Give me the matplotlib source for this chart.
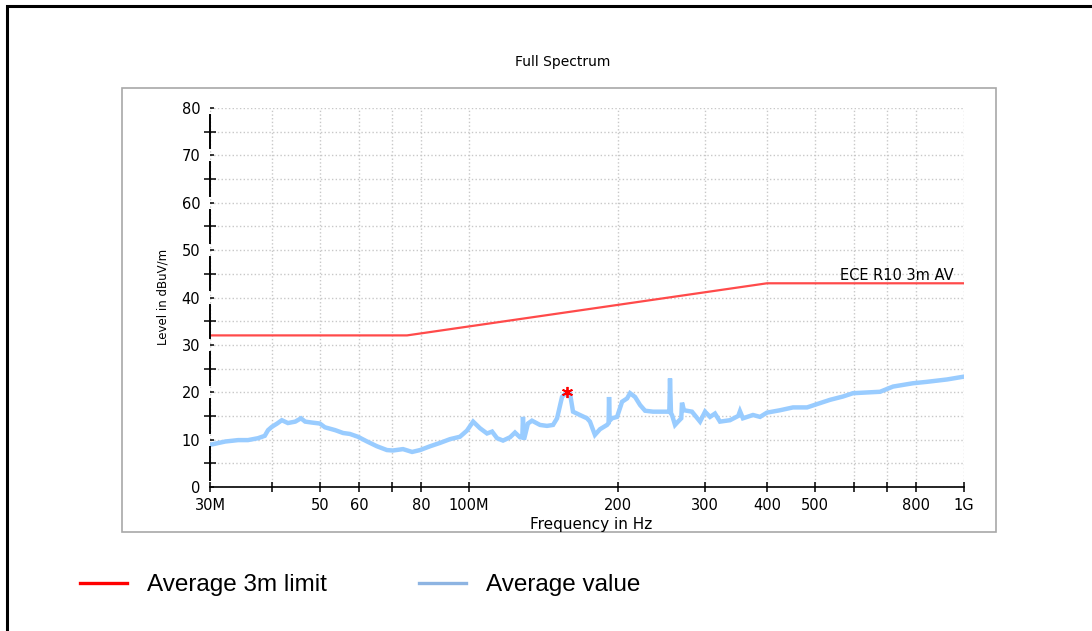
import numpy as np
import matplotlib.pyplot as plt
from matplotlib.lines import Line2D
from matplotlib.patches import Rectangle

freq_mhz = [30.0, 32.2, 34.2, 35.8, 37.5, 38.7, 39.3, 40.0, 41.0, 41.9,
            43.1, 44.6, 45.8, 46.7, 48.2, 50.0, 51.2, 53.7, 55.7, 57.5,
            59.7, 62.3, 65.2, 68.3, 70.2, 73.6, 76.8, 79.7, 83.5, 87.4,
            91.6, 95.9, 99.1, 102.0, 105.3, 108.8, 111.4, 114.0, 117.2, 121.1,
            123.9, 126.8, 128.2, 128.6, 129.2, 131.6, 134.1, 139.2, 143.8, 147.9,
            150.7, 154.2, 157.9, 160.0, 162.3, 167.6, 173.2, 175.6, 179.7, 184.0,
            190.1, 191.5, 191.9, 192.5, 194.6, 199.2, 203.9, 208.7, 211.6, 216.6,
            221.7, 226.9, 235.5, 243.2, 251.3, 254.0, 254.8, 256.0, 257.2, 260.8,
            264.5, 268.5, 269.4, 271.9, 282.2, 293.0, 299.9, 306.9, 314.1, 321.5,
            336.8, 350.0, 352.8, 357.7, 374.8, 387.3, 400.0, 425.0, 451.5, 482.0,
            504.9, 536.3, 569.6, 596.8, 676.8, 718.9, 788.9, 842.0, 924.2, 1000.0]
avg_level = [8.9, 9.6, 9.9, 9.9, 10.3, 10.8, 12.0, 12.7, 13.4, 14.1,
             13.5, 13.8, 14.5, 13.8, 13.6, 13.4, 12.6, 12.0, 11.4, 11.2,
             10.6, 9.6, 8.6, 7.8, 7.7, 8.0, 7.4, 7.8, 8.6, 9.3,
             10.1, 10.6, 11.9, 13.8, 12.4, 11.3, 11.7, 10.3, 9.8, 10.5,
             11.5, 10.5, 10.5, 14.8, 10.0, 13.4, 14.0, 13.1, 12.9, 13.1,
             14.5, 19.0, 20.1, 19.8, 15.9, 15.2, 14.5, 13.8, 11.0, 12.2,
             13.1, 13.5, 19.0, 14.0, 14.5, 14.8, 18.0, 18.7, 19.8, 19.0,
             17.3, 16.1, 15.9, 15.9, 15.9, 15.9, 22.9, 15.5, 15.2, 13.1,
             13.8, 14.5, 17.8, 16.2, 15.9, 13.8, 15.9, 14.8, 15.5, 13.8,
             14.1, 15.0, 16.0, 14.5, 15.2, 14.8, 15.7, 16.2, 16.8, 16.8,
             17.5, 18.4, 19.1, 19.8, 20.1, 21.2, 21.9, 22.2, 22.7, 23.3]

# ECE R10 3m AV limit breakpoints
limit_freq = [30, 75, 400, 1000]
limit_level = [32, 32, 43, 43]

peak_freq = 157.9
peak_level = 20.1

x_ticks = [30, 40, 50, 60, 70, 80, 100, 200, 300, 400, 500, 600, 700, 800, 1000]
x_labels = ['30M', '', '50', '60', '', '80', '100M', '200', '300', '400', '500',
            '', '', '800', '1G']
y_ticks = [0, 10, 20, 30, 40, 50, 60, 70, 80]
y_minor = [5, 15, 25, 35, 45, 55, 65, 75]

plt.rcParams['font.family'] = ['DejaVu Sans']

fig = plt.figure(figsize=(10.92, 6.31), dpi=100)

# outer document frame and the grey chart panel
fig.add_artist(Rectangle((7 / 1092, -0.2), 1.5, 1.2 - 5.5 / 631,
                         transform=fig.transFigure, fill=False,
                         edgecolor='black', lw=2.2))
panel = Rectangle((122 / 1092, 1 - 532 / 631), 874 / 1092, 444 / 631,
                  transform=fig.transFigure, fill=False,
                  edgecolor='#a8a8a8', lw=1.2)
fig.add_artist(panel)

ax = fig.add_axes([210 / 1092, 1 - 487 / 631, 754 / 1092, 379 / 631])
ax.set_xscale('log')
ax.set_xlim(30, 1000)
ax.set_ylim(0, 80)

ax.plot(freq_mhz, avg_level, color='#99ccff', lw=3.2, solid_joinstyle='miter')
ax.plot(limit_freq, limit_level, color='#ff4a4a', lw=1.6)
ax.plot(peak_freq, peak_level, marker=(6, 2, 0), color='red', ms=8, mew=1.3)
ax.text(562, 43, 'ECE R10 3m AV', fontsize=10.5, ha='left', va='bottom')

ax.set_xticks(x_ticks)
ax.set_xticklabels(x_labels)
ax.xaxis.set_minor_locator(plt.NullLocator())
ax.set_yticks(y_ticks)
ax.set_yticks(y_minor, minor=True)

ax.tick_params(axis='x', which='major', direction='inout', length=6.5,
               width=1.1, pad=5, labelsize=10.5)
ax.tick_params(axis='y', which='major', direction='in', length=3,
               width=1.1, pad=7, labelsize=10.5)
ax.tick_params(axis='y', which='minor', direction='inout', length=9,
               width=1.1)

for s in ['top', 'right', 'left']:
    ax.spines[s].set_visible(False)
ax.spines['bottom'].set_linewidth(1.2)

# broken left axis line, the way the EMC software draws it
for y in y_ticks[:-1]:
    ax.plot([30, 30], [y + 1.5, y + 8.5], color='black', lw=1.4, clip_on=False)

ax.grid(True, which='major', axis='x', color='#c8c8c8', ls=':', lw=1)
ax.grid(True, which='both', axis='y', color='#c8c8c8', ls=':', lw=1)
ax.set_axisbelow(True)

fig.text(563 / 1092, 1 - 62 / 631, 'Full Spectrum', fontsize=10,
         ha='center', va='center')
fig.text(163 / 1092, 1 - 297 / 631, 'Level in dBuV/m', fontsize=8.5,
         rotation=90, ha='center', va='center')
xl = fig.text(591 / 1092, 1 - 524 / 631, 'Frequency in Hz', fontsize=11,
              ha='center', va='center')
xl.set_clip_path(panel)

handles = [Line2D([], [], color='red', lw=2.4, label='Average 3m limit'),
           Line2D([], [], color='#8db4e2', lw=2.4, label='Average value')]
fig.legend(handles=handles, loc='center left',
           bbox_to_anchor=(80 / 1092, 1 - 585 / 631), ncol=2, frameon=False,
           prop={'family': 'Liberation Sans', 'size': 17.5},
           handlelength=1.95, handletextpad=0.8, columnspacing=3.8,
           borderpad=0, borderaxespad=0)

fig.savefig('out.png', dpi=100)
